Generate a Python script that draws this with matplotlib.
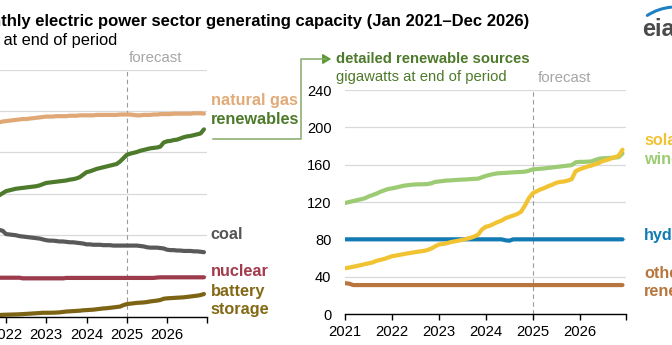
import numpy as np
import matplotlib
matplotlib.use("Agg")
import matplotlib.pyplot as plt
from matplotlib.lines import Line2D
from matplotlib.patches import FancyArrowPatch

plt.rcParams["font.family"] = ["Liberation Sans", "DejaVu Sans"]

# monthly values, Jan 2021 - Dec 2026 (gigawatts at end of period)
natural_gas = [462, 464, 465, 466, 467, 468, 469, 470, 471, 472, 473, 475,
               476, 477, 478, 479, 480, 481, 481, 482, 483, 484, 485, 486,
               487, 487, 487, 488, 488, 488, 488, 489, 489, 489, 490, 490,
               490, 490, 490, 491, 491, 491, 491, 491, 491, 491, 492, 492,
               492, 492, 491, 490, 490, 491, 491, 491, 492, 492, 493, 493,
               493, 493, 494, 494, 494, 494, 494, 494, 495, 495, 495, 494]
renewables = [270, 272, 274, 276, 278, 280, 283, 286, 289, 292, 296, 301,
              306, 308, 310, 312, 313, 314, 315, 316, 317, 318, 320, 323,
              326, 327, 328, 329, 330, 331, 332, 334, 335, 337, 340, 346,
              352, 354, 357, 360, 362, 364, 366, 368, 370, 372, 378, 386,
              394, 397, 399, 401, 404, 406, 408, 410, 411, 412, 414, 424,
              427, 428, 430, 431, 434, 437, 439, 440, 442, 444, 446, 456]
coal = [222, 221, 220, 219, 218, 217, 216, 215, 214, 213, 212, 210,
        202, 201, 200, 199, 197, 196, 195, 194, 193, 192, 191, 189,
        187, 186, 186, 185, 184, 184, 183, 182, 182, 181, 180, 179,
        177, 177, 176, 176, 176, 175, 175, 175, 174, 174, 174, 174,
        174, 174, 174, 174, 173, 172, 170, 169, 169, 169, 168, 167,
        164, 163, 163, 162, 162, 161, 161, 161, 160, 160, 159, 158]
nuclear = [96, 96, 96, 96, 96, 96, 96, 96, 96, 96, 96, 96,
           96, 96, 96, 96, 96, 94.5, 94.5, 94.5, 94.5, 94.5, 94.5, 94.5,
           94.5, 94.5, 94.5, 94.5, 94.5, 94.5, 95.5, 95.5, 95.5, 95.5, 95.5, 95.5,
           95.5, 95.5, 95.5, 95.5, 95.5, 95.5, 95.5, 95.5, 95.5, 95.5, 95.5, 95.5,
           95.5, 95.5, 95.5, 95.5, 95.5, 95.5, 95.5, 95.5, 95.5, 96.5, 97, 97,
           97, 97, 97, 97, 97, 97, 97, 97, 97, 97, 97, 97]
battery = [1.0, 1.5, 2.0, 2.5, 3.0, 3.5, 4.0, 4.5, 5.0, 5.2, 5.5, 6.0,
           6.3, 6.5, 6.8, 7.0, 7.3, 7.8, 8.3, 8.8, 9.3, 9.8, 10.3, 11.0,
           11.0, 11.0, 11.2, 11.5, 12.0, 13.0, 14.0, 14.5, 15.0, 15.5, 16.0, 17.0,
           17.5, 18.0, 18.5, 19.5, 20.5, 21.5, 22.0, 23.0, 24.0, 25.0, 26.0, 29.5,
           32.0, 33.0, 34.0, 35.0, 35.5, 36.0, 37.0, 38.5, 39.5, 40.5, 42.0, 45.0,
           46.0, 46.5, 47.0, 47.5, 48.0, 48.5, 49.5, 50.5, 51.5, 52.5, 54.0, 56.5]

solar = [49.0, 49.8, 50.6, 51.5, 52.4, 53.4, 54.3, 55.3, 57.0, 58.0, 59.0, 60.5,
         62.0, 62.6, 63.4, 64.2, 65.0, 65.6, 66.3, 67.0, 67.5, 68.5, 70.0, 72.5,
         74.5, 75.0, 75.8, 77.0, 77.8, 78.6, 79.5, 80.5, 81.5, 83.0, 85.0, 90.5,
         93.5, 94.5, 96.5, 98.5, 100.0, 102.5, 104.0, 105.5, 107.0, 109.5, 116.0, 124.0,
         129.3, 131.5, 133.5, 135.0, 137.0, 138.5, 140.5, 141.5, 142.0, 143.0, 144.5, 153.0,
         155.0, 156.5, 158.0, 159.0, 160.5, 162.0, 164.0, 165.0, 166.5, 168.0, 169.5, 176.0]
wind = [119.0, 120.0, 121.0, 122.0, 123.0, 124.0, 126.0, 127.5, 129.0, 131.0, 132.5, 134.0,
        134.6, 135.5, 136.5, 137.5, 138.0, 138.5, 138.8, 139.0, 139.0, 139.2, 140.0, 141.5,
        142.0, 142.5, 143.0, 143.2, 143.5, 143.8, 144.0, 144.2, 144.5, 144.8, 145.0, 146.5,
        148.0, 149.0, 150.0, 150.7, 151.0, 151.2, 151.5, 151.8, 152.0, 152.2, 152.5, 153.5,
        155.0, 155.3, 155.6, 156.0, 156.5, 157.0, 157.5, 158.0, 158.5, 159.0, 159.5, 162.5,
        163.0, 163.0, 163.2, 163.5, 165.0, 166.4, 166.8, 167.0, 167.3, 167.6, 168.0, 172.0]
hydro = [80] * 41 + [79, 78.5] + [80] * 29
other = [33, 32.5] + [31] * 70

years = [2021, 2022, 2023, 2024, 2025, 2026, 2027]
year_labels = ["2021", "2022", "2023", "2024", "2025", "2026", ""]

x = 2021 + np.arange(72) / 12.0

W, H = 672, 345
fig = plt.figure(figsize=(W / 100, H / 100), dpi=100)


def fx(p):
    return p / W


def fy(p):
    return 1 - p / H


def style_axes(ax, ymax, ystep):
    ax.set_xlim(2021, 2027)
    ax.set_ylim(0, ymax)
    ax.set_yticks(np.arange(0, ymax + 1, ystep))
    ax.set_xticks(years)
    ax.set_xticklabels(year_labels)
    for s in ["top", "right", "left"]:
        ax.spines[s].set_visible(False)
    ax.spines["bottom"].set_color("black")
    ax.spines["bottom"].set_linewidth(1.0)
    ax.grid(axis="y", color="#d9d9d9", linewidth=0.9)
    ax.set_axisbelow(True)
    ax.tick_params(axis="x", direction="out", length=4, width=1, pad=4,
                   labelsize=10.7, colors="black")
    ax.tick_params(axis="y", length=0, pad=10, labelsize=10.5)
    ax.axvline(2025, color="#9a9a9a", linestyle=(0, (4, 3)), linewidth=0.8)


# left panel: all sources
ax1 = fig.add_axes([fx(-34.3), fy(317.3), fx(241.6), 247.3 / H])
style_axes(ax1, 600, 100)
lw = 3.0
ax1.plot(x, natural_gas, color="#e0a876", lw=lw, solid_capstyle="round")
ax1.plot(x, renewables, color="#4e7a2c", lw=lw, solid_capstyle="round")
ax1.plot(x, coal, color="#595959", lw=lw, solid_capstyle="round")
ax1.plot(x, nuclear, color="#9c3b4c", lw=lw, solid_capstyle="round")
ax1.plot(x, battery, color="#7d6414", lw=lw, solid_capstyle="round")

lab = dict(ha="left", va="center", fontsize=11.7, fontweight="bold", clip_on=False)
ax1.text(2027.08, 527, "natural gas", color="#e2aa77", **lab)
ax1.text(2027.08, 479, "renewables", color="#4e7a2c", **lab)
ax1.text(2027.08, 202, "coal", color="#555555", **lab)
ax1.text(2027.08, 110, "nuclear", color="#a23b4e", **lab)
ax1.text(2027.08, 63, "battery", color="#836915", **lab)
ax1.text(2027.08, 19, "storage", color="#836915", **lab)
ax1.text(2025.05, 630, "forecast", color="#a6a6a6", fontsize=10.8,
         ha="left", va="center")

# right panel: detailed renewable sources
ax2 = fig.add_axes([fx(345.3), fy(314), fx(281.1), 224 / H])
style_axes(ax2, 240, 40)
ax2.plot(x, other, color="#b8763e", lw=lw, solid_capstyle="round")
ax2.plot(x, hydro, color="#137bb4", lw=lw, solid_capstyle="round")
ax2.plot(x, wind, color="#9ccb73", lw=lw, solid_capstyle="round")
ax2.plot(x, solar, color="#f1c232", lw=lw, solid_capstyle="round")

ax2.text(2027.376, 186, "solar", color="#f1c232", **lab)
ax2.text(2027.376, 166, "wind", color="#9ccb73", **lab)
ax2.text(2027.376, 83.6, "hydro", color="#137bb4", **lab)
ax2.text(2027.376, 43, "other", color="#b8763e", **lab)
ax2.text(2027.376, 23.6, "renewables", color="#b8763e", **lab)
ax2.text(2025.1, 253, "forecast", color="#a6a6a6", fontsize=10.8,
         ha="left", va="center", clip_on=False)

# titles
fig.text(fx(529), fy(21.5),
         "Monthly electric power sector generating capacity (Jan 2021\u2013Dec 2026)",
         ha="right", va="center", fontsize=12.0, fontweight="bold")
fig.text(fx(117), fy(40), "gigawatts at end of period", ha="right",
         va="center", fontsize=11.8)
fig.text(fx(336), fy(59), "detailed renewable sources", ha="left",
         va="center", fontsize=10.7, fontweight="bold", color="#4e7a2c")
fig.text(fx(336), fy(76.5), "gigawatts at end of period", ha="left",
         va="center", fontsize=10.7, color="#4e7a2c")

# bracket from renewables to detail panel
bc = "#86a96a"
fig.add_artist(Line2D([fx(212.5), fx(300.7), fx(300.7), fx(326)],
                      [fy(138.5), fy(138.5), fy(59), fy(59)],
                      color=bc, lw=1.1))
fig.add_artist(FancyArrowPatch((fx(322), fy(59)), (fx(334), fy(59)),
                               transform=fig.transFigure,
                               arrowstyle="-|>,head_length=5,head_width=3",
                               color="#5c9a35", lw=1.1))

# eia logo
fig.text(fx(642), fy(29), "eia", ha="left", va="center", fontsize=17,
         fontweight="bold", color="#4a4a4a")
fig.add_artist(FancyArrowPatch((fx(645), fy(17)), (fx(674), fy(7)),
                               transform=fig.transFigure, arrowstyle="-",
                               connectionstyle="arc3,rad=-0.15",
                               color="#1f80c4", lw=2.2))

fig.savefig("out.png", dpi=100)
